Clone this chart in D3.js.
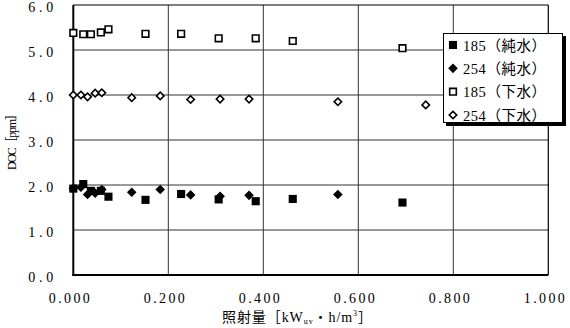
<!DOCTYPE html>
<html><head><meta charset="utf-8">
<script src="https://cdn.jsdelivr.net/npm/d3@7"></script>
<style>
html,body{margin:0;padding:0;background:#fff;}
text{font-family:"Liberation Serif","Noto Sans CJK JP",serif;fill:#000;}
</style></head>
<body><svg id="c" width="570" height="328"></svg>
<script>
// ---- data ----
const xTicks = [0, 0.2, 0.4, 0.6, 0.8, 1.0];
const xTickLabels = ["0.000", "0.200", "0.400", "0.600", "0.800", "1.000"];
const yTicks = [0, 1, 2, 3, 4, 5, 6];
const yTickLabels = ["0.0", "1.0", "2.0", "3.0", "4.0", "5.0", "6.0"];
const seriesNames = ["185（純水）", "254（純水）", "185（下水）", "254（下水）"];

const x185pure = [0, 0.021, 0.037, 0.058, 0.074, 0.152, 0.227, 0.306, 0.384, 0.462, 0.693];
const y185pure = [1.92, 2.02, 1.87, 1.87, 1.74, 1.67, 1.80, 1.68, 1.64, 1.69, 1.61];

const x254pure = [0, 0.016, 0.030, 0.046, 0.060, 0.123, 0.183, 0.247, 0.309, 0.370, 0.557];
const y254pure = [1.92, 1.95, 1.79, 1.82, 1.90, 1.84, 1.90, 1.78, 1.75, 1.77, 1.79];

const x185sew = [0, 0.021, 0.037, 0.058, 0.074, 0.152, 0.227, 0.306, 0.384, 0.462, 0.693];
const y185sew = [5.38, 5.35, 5.35, 5.39, 5.46, 5.36, 5.36, 5.26, 5.26, 5.20, 5.04];

const x254sew = [0, 0.016, 0.030, 0.046, 0.060, 0.123, 0.183, 0.247, 0.309, 0.370, 0.557, 0.742];
const y254sew = [4.00, 4.00, 3.96, 4.04, 4.05, 3.94, 3.98, 3.90, 3.91, 3.91, 3.85, 3.78];

// ---- chart ----
const svg = d3.select("#c");
const L = 73.3, R = 548.3, T = 5, B = 275;
const x = d3.scaleLinear().domain([0, 1]).range([L, R]);
const y = d3.scaleLinear().domain([0, 6]).range([B, T]);

// grid
svg.append("g").selectAll("line").data(yTicks.filter(d => d > 0 && d < 6)).join("line")
  .attr("x1", L).attr("x2", R).attr("y1", d => y(d)).attr("y2", d => y(d))
  .attr("stroke", "#333").attr("stroke-width", 1);
svg.append("g").selectAll("line").data(xTicks.filter(d => d > 0 && d < 1)).join("line")
  .attr("y1", T).attr("y2", B).attr("x1", d => x(d)).attr("x2", d => x(d))
  .attr("stroke", "#333").attr("stroke-width", 1);
// frame
svg.append("line").attr("x1", L).attr("x2", R).attr("y1", T).attr("y2", T).attr("stroke", "#000").attr("stroke-width", 1.2);
svg.append("line").attr("x1", R).attr("x2", R).attr("y1", T).attr("y2", B).attr("stroke", "#000").attr("stroke-width", 1.2);

// axes
const xAxis = d3.axisBottom(x).tickValues(xTicks).tickSize(0).tickFormat((d, i) => xTickLabels[i]);
const gx = svg.append("g").attr("transform", `translate(0,${B})`).call(xAxis);
gx.select(".domain").attr("stroke", "#000").attr("stroke-width", 2).attr("d", `M${L - 1},0H${R}`);
gx.selectAll("text").attr("font-size", 14).attr("dy", 0).attr("y", 28)
  .attr("dx", -4.5).attr("textLength", 41).attr("lengthAdjust", "spacing");

const yAxis = d3.axisLeft(y).tickValues(yTicks).tickSize(0).tickFormat((d, i) => yTickLabels[i]);
const gy = svg.append("g").attr("transform", `translate(${L},0)`).call(yAxis);
gy.select(".domain").attr("stroke", "#000").attr("stroke-width", 2).attr("d", `M0,${B + 1}V${T}`);
gy.selectAll("text").attr("font-size", 14).attr("x", -20).attr("dy", 0).attr("y", 6.5)
  .attr("textLength", 25).attr("lengthAdjust", "spacing");

// axis titles
svg.append("text").attr("transform", "translate(16,139) rotate(-90)")
  .attr("text-anchor", "middle").attr("font-size", 12)
  .attr("textLength", 62).attr("lengthAdjust", "spacing").text("DOC［ppm］");
const xt = svg.append("text").attr("x", 222).attr("y", 322).attr("font-size", 14)
  .attr("textLength", 150).attr("lengthAdjust", "spacing");
xt.append("tspan").text("照射量［kW");
xt.append("tspan").attr("font-size", 8).attr("dy", 2).text("uv");
xt.append("tspan").attr("dy", -2).text("・h/m");
xt.append("tspan").attr("font-size", 8).attr("dy", -6).text("3");
xt.append("tspan").attr("dy", 6).text("］");

// markers
const sq = d3.symbol().type(d3.symbolSquare);
function drawSeries(xs, ys, kind) {
  const data = xs.map((v, i) => [v, ys[i]]);
  const g = svg.append("g");
  const sel = g.selectAll("path").data(data).join("path");
  styleMarker(sel, kind, d => x(d[0]), d => y(d[1]));
}
function styleMarker(sel, kind, fx, fy) {
  if (kind === "fsq") {
    sel.attr("d", sq.size(66)()).attr("fill", "#000")
      .attr("transform", d => `translate(${fx(d)},${fy(d)})`);
  } else if (kind === "fdi") {
    sel.attr("d", sq.size(46)()).attr("fill", "#000")
      .attr("transform", d => `translate(${fx(d)},${fy(d)}) rotate(45)`);
  } else if (kind === "osq") {
    sel.attr("d", sq.size(44)()).attr("fill", "#fff").attr("stroke", "#000").attr("stroke-width", 1.6)
      .attr("transform", d => `translate(${fx(d)},${fy(d)})`);
  } else {
    sel.attr("d", sq.size(28)()).attr("fill", "#fff").attr("stroke", "#000").attr("stroke-width", 1.6)
      .attr("transform", d => `translate(${fx(d)},${fy(d)}) rotate(45)`);
  }
}
drawSeries(x185pure, y185pure, "fsq");
drawSeries(x254pure, y254pure, "fdi");
drawSeries(x185sew, y185sew, "osq");
drawSeries(x254sew, y254sew, "odi");

// legend
const kinds = ["fsq", "fdi", "osq", "odi"];
const lg = svg.append("g");
lg.append("rect").attr("x", 446).attr("y", 36).attr("width", 120).attr("height", 90).attr("fill", "#000");
lg.append("rect").attr("x", 443.5).attr("y", 33.5).attr("width", 119).attr("height", 89)
  .attr("fill", "#fff").attr("stroke", "#000").attr("stroke-width", 1);
const ly = d3.scalePoint().domain(seriesNames).range([45, 115]);
seriesNames.forEach((n, i) => {
  const p = lg.append("path").datum(n);
  styleMarker(p, kinds[i], () => 453, d => ly(d));
  lg.append("text").attr("x", 463).attr("y", ly(n) + 5.5).attr("font-size", 14.5)
    .attr("textLength", 83).attr("lengthAdjust", "spacing").text(n);
});
</script></body></html>
